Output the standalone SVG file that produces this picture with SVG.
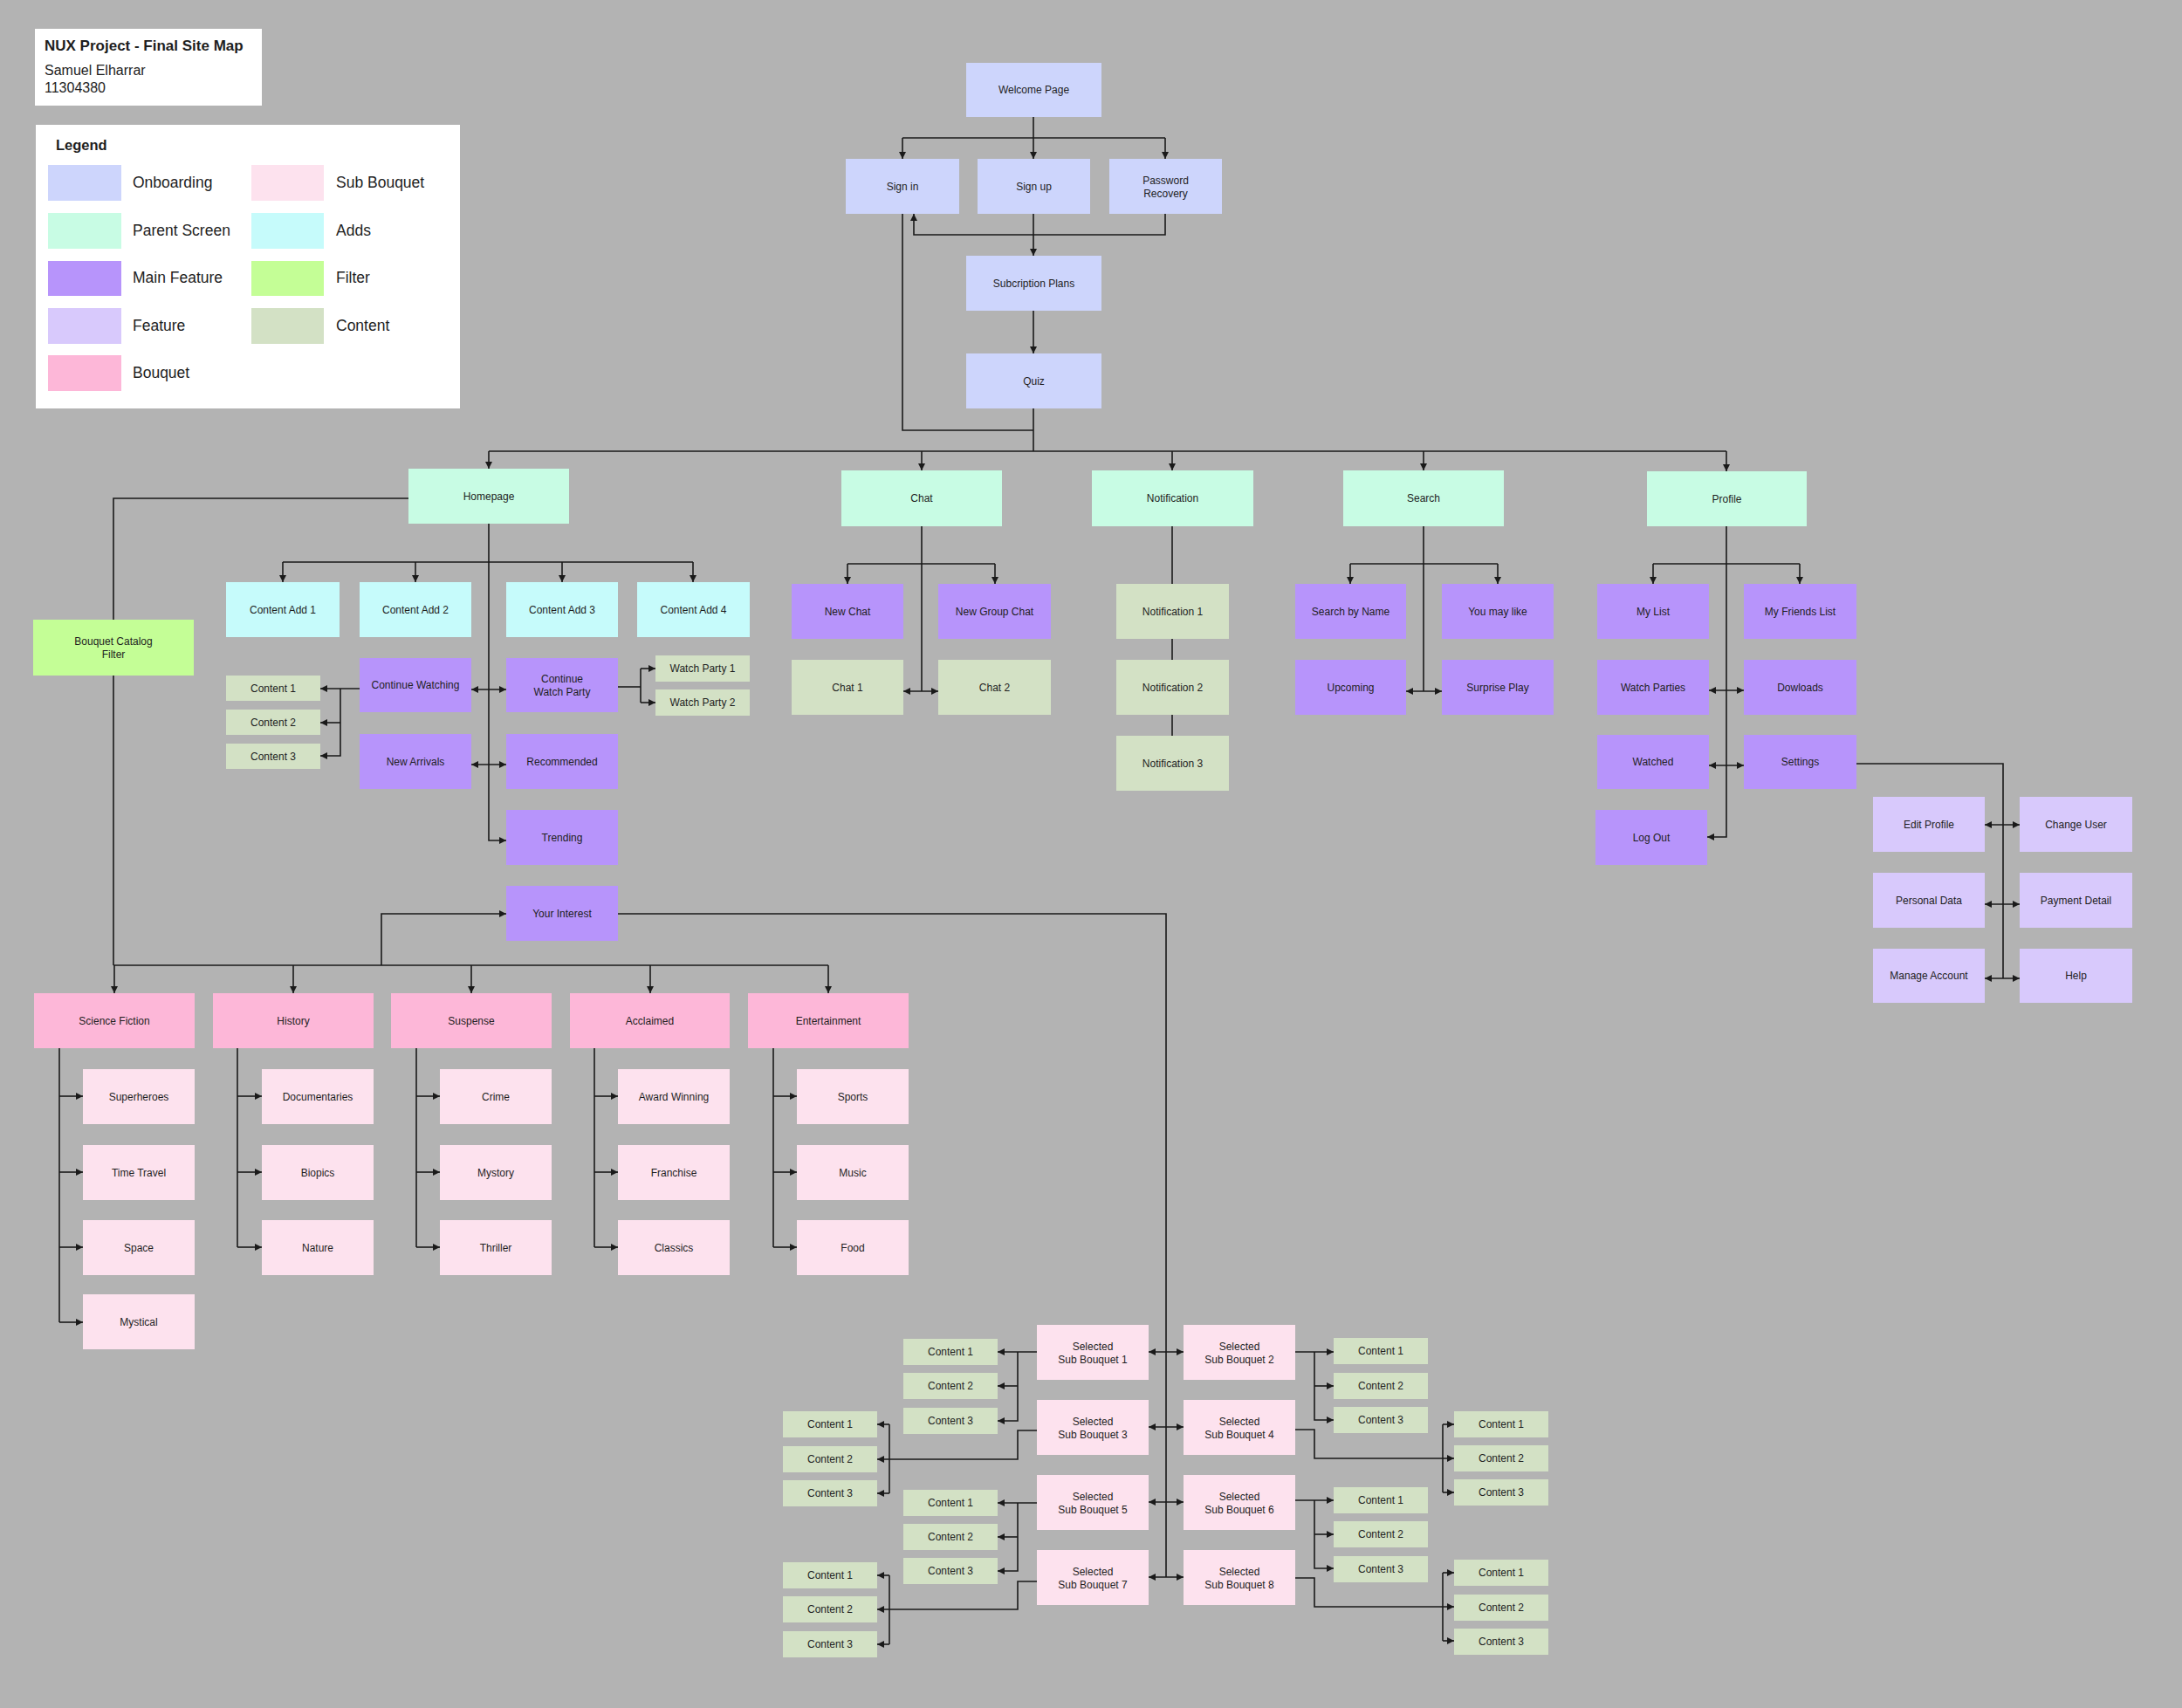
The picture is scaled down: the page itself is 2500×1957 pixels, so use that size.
<svg xmlns="http://www.w3.org/2000/svg" width="2500" height="1957" viewBox="0 0 2500 1957">
<defs>
<style>
.ob{fill:#CDD5FC}.ps{fill:#C8FCE4}.mf{fill:#B794FB}.ft{fill:#D8C9FC}.bq{fill:#FDB7D8}.sb{fill:#FDE2EE}.ad{fill:#C6FBFB}.fl{fill:#C4FE96}.ct{fill:#D3E1C5}
text{font-family:"Liberation Sans",Arial,sans-serif;fill:#1e1e1e}
.t{font-size:12px;text-anchor:middle;dominant-baseline:central}
.lg{font-size:17.5px;dominant-baseline:central}
.c path{fill:none;stroke:#1a1a1a;stroke-width:1.6}
.e{marker-end:url(#ar)}
.b{marker-end:url(#ar);marker-start:url(#ar)}
</style>
<marker id="ar" viewBox="0 0 10 10" refX="10" refY="5" markerWidth="8" markerHeight="8" markerUnits="userSpaceOnUse" orient="auto-start-reverse"><path d="M0,0 L10,5 L0,10 z" fill="#1a1a1a"/></marker>
</defs>
<rect width="2500" height="1957" fill="#B3B3B3"/>

<g id="title">
<rect x="40" y="33" width="260" height="88" fill="#fff"/>
<text x="51" y="58" font-size="17" font-weight="bold">NUX Project - Final Site Map</text>
<text x="51" y="86" font-size="16">Samuel Elharrar</text>
<text x="51" y="106" font-size="16">11304380</text>
</g>
<g id="legend">
<rect x="41" y="143" width="486" height="325" fill="#fff"/>
<text x="64" y="172" font-size="16.5" font-weight="bold">Legend</text>
<rect class="ob" x="55" y="189" width="84" height="41"/><text class="lg" x="152" y="209">Onboarding</text>
<rect class="ps" x="55" y="244" width="84" height="41"/><text class="lg" x="152" y="264">Parent Screen</text>
<rect class="mf" x="55" y="299" width="84" height="40"/><text class="lg" x="152" y="318">Main Feature</text>
<rect class="ft" x="55" y="353" width="84" height="41"/><text class="lg" x="152" y="373">Feature</text>
<rect class="bq" x="55" y="407" width="84" height="41"/><text class="lg" x="152" y="427">Bouquet</text>
<rect class="sb" x="288" y="189" width="83" height="41"/><text class="lg" x="385" y="209">Sub Bouquet</text>
<rect class="ad" x="288" y="244" width="83" height="41"/><text class="lg" x="385" y="264">Adds</text>
<rect class="fl" x="288" y="299" width="83" height="40"/><text class="lg" x="385" y="318">Filter</text>
<rect class="ct" x="288" y="353" width="83" height="41"/><text class="lg" x="385" y="373">Content</text>
</g>

<g class="c" id="connectors">
<path d="M1184,134 V182" class="e"/>
<path d="M1034,158 H1335"/>
<path d="M1034,158 V182" class="e"/>
<path d="M1335,158 V182" class="e"/>
<path d="M1184,245 V293" class="e"/>
<path d="M1335,245 V269 H1047 V245" class="e"/>
<path d="M1184,356 V405" class="e"/>
<path d="M1184,468 V517"/>
<path d="M1034,245 V493 H1184"/>
<path d="M560,517 H1978"/>
<path d="M560,517 V537" class="e"/>
<path d="M1056,517 V539" class="e"/>
<path d="M1343,517 V539" class="e"/>
<path d="M1631,517 V539" class="e"/>
<path d="M1978,517 V540" class="e"/>
<!-- homepage -->
<path d="M560,600 V963 H580" class="e"/>
<path d="M324,644 H794"/>
<path d="M324,644 V667" class="e"/>
<path d="M476,644 V667" class="e"/>
<path d="M644,644 V667" class="e"/>
<path d="M794,644 V667" class="e"/>
<path d="M540,790 H580" class="b"/>
<path d="M540,876 H580" class="b"/>
<path d="M412,789 H367" class="e"/>
<path d="M390,789 V866 H367" class="e"/>
<path d="M390,828 H367" class="e"/>
<path d="M708,787 H734"/>
<path d="M734,766 V805"/>
<path d="M734,766 H751" class="e"/>
<path d="M734,805 H751" class="e"/>
<path d="M468,571 H130 V710"/>
<path d="M130,774 V1106"/>
<path d="M130,1106 H949"/>
<path d="M131,1106 V1138" class="e"/>
<path d="M336,1106 V1138" class="e"/>
<path d="M540,1106 V1138" class="e"/>
<path d="M745,1106 V1138" class="e"/>
<path d="M949,1106 V1138" class="e"/>
<path d="M437,1106 V1047 H580" class="e"/>
<path d="M708,1047 H1336 V1807"/>
<!-- bouquets -->
<path d="M68,1201 V1515"/>
<path d="M68,1256 H95" class="e"/><path d="M68,1343 H95" class="e"/><path d="M68,1429 H95" class="e"/><path d="M68,1515 H95" class="e"/>
<path d="M272,1201 V1429"/>
<path d="M272,1256 H300" class="e"/><path d="M272,1343 H300" class="e"/><path d="M272,1429 H300" class="e"/>
<path d="M477,1201 V1429"/>
<path d="M477,1256 H504" class="e"/><path d="M477,1343 H504" class="e"/><path d="M477,1429 H504" class="e"/>
<path d="M681,1201 V1429"/>
<path d="M681,1256 H708" class="e"/><path d="M681,1343 H708" class="e"/><path d="M681,1429 H708" class="e"/>
<path d="M886,1201 V1429"/>
<path d="M886,1256 H913" class="e"/><path d="M886,1343 H913" class="e"/><path d="M886,1429 H913" class="e"/>
<!-- chat -->
<path d="M1056,603 V792"/>
<path d="M971,646 H1140"/>
<path d="M971,646 V669" class="e"/>
<path d="M1140,646 V669" class="e"/>
<path d="M1035,792 H1075" class="b"/>
<!-- notification -->
<path d="M1343,603 V669"/>
<path d="M1343,732 V756"/>
<path d="M1343,819 V843"/>
<!-- search -->
<path d="M1631,603 V792"/>
<path d="M1547,646 H1716"/>
<path d="M1547,646 V669" class="e"/>
<path d="M1716,646 V669" class="e"/>
<path d="M1611,792 H1652" class="b"/>
<!-- profile -->
<path d="M1978,603 V959 H1956" class="e"/>
<path d="M1894,646 H2062"/>
<path d="M1894,646 V669" class="e"/>
<path d="M2062,646 V669" class="e"/>
<path d="M1958,791 H1998" class="b"/>
<path d="M1958,877 H1998" class="b"/>
<path d="M2127,875 H2295 V1121"/>
<path d="M2274,945 H2314" class="b"/>
<path d="M2274,1036 H2314" class="b"/>
<path d="M2274,1121 H2314" class="b"/>
<!-- sub bouquets -->
<path d="M1316,1549 H1356" class="b"/>
<path d="M1316,1635 H1356" class="b"/>
<path d="M1316,1721 H1356" class="b"/>
<path d="M1316,1807 H1356" class="b"/>
<path d="M1188,1549 H1143" class="e"/>
<path d="M1166,1549 V1628 H1143" class="e"/>
<path d="M1166,1588 H1143" class="e"/>
<path d="M1188,1722 H1143" class="e"/>
<path d="M1166,1722 V1800 H1143" class="e"/>
<path d="M1166,1761 H1143" class="e"/>
<path d="M1188,1639 H1166 V1672 H1005" class="e"/>
<path d="M1019,1632 V1711"/>
<path d="M1019,1632 H1005" class="e"/>
<path d="M1019,1711 H1005" class="e"/>
<path d="M1188,1812 H1166 V1844 H1005" class="e"/>
<path d="M1019,1805 V1884"/>
<path d="M1019,1805 H1005" class="e"/>
<path d="M1019,1884 H1005" class="e"/>
<path d="M1484,1549 H1528" class="e"/>
<path d="M1506,1549 V1627 H1528" class="e"/>
<path d="M1506,1588 H1528" class="e"/>
<path d="M1484,1719 H1528" class="e"/>
<path d="M1506,1719 V1797 H1528" class="e"/>
<path d="M1506,1758 H1528" class="e"/>
<path d="M1484,1638 H1506 V1671 H1666" class="e"/>
<path d="M1653,1632 V1710"/>
<path d="M1653,1632 H1666" class="e"/>
<path d="M1653,1710 H1666" class="e"/>
<path d="M1484,1808 H1506 V1841 H1666" class="e"/>
<path d="M1653,1802 V1880"/>
<path d="M1653,1802 H1666" class="e"/>
<path d="M1653,1880 H1666" class="e"/>
</g>

<g id="welcome"><rect class="ob" x="1107" y="72" width="155" height="62"/><text class="t" x="1184.5" y="103">Welcome Page</text></g>
<g id="signin"><rect class="ob" x="969" y="182" width="130" height="63"/><text class="t" x="1034" y="213.5">Sign in</text></g>
<g id="signup"><rect class="ob" x="1120" y="182" width="129" height="63"/><text class="t" x="1184.5" y="213.5">Sign up</text></g>
<g id="pwrecovery"><rect class="ob" x="1271" y="182" width="129" height="63"/><text class="t" x="1335.5" y="213.5"><tspan x="1335.5" dy="-7">Password</tspan><tspan x="1335.5" dy="15">Recovery</tspan></text></g>
<g id="subscription"><rect class="ob" x="1107" y="293" width="155" height="63"/><text class="t" x="1184.5" y="324.5">Subcription Plans</text></g>
<g id="quiz"><rect class="ob" x="1107" y="405" width="155" height="63"/><text class="t" x="1184.5" y="436.5">Quiz</text></g>

<g id="homepage"><rect class="ps" x="468" y="537" width="184" height="63"/><text class="t" x="560" y="568.5">Homepage</text></g>
<g id="chat"><rect class="ps" x="964" y="539" width="184" height="64"/><text class="t" x="1056" y="571">Chat</text></g>
<g id="notification"><rect class="ps" x="1251" y="539" width="185" height="64"/><text class="t" x="1343.5" y="571">Notification</text></g>
<g id="search"><rect class="ps" x="1539" y="539" width="184" height="64"/><text class="t" x="1631" y="571">Search</text></g>
<g id="profile"><rect class="ps" x="1887" y="540" width="183" height="63"/><text class="t" x="1978.5" y="571.5">Profile</text></g>

<g id="add1"><rect class="ad" x="259" y="667" width="130" height="63"/><text class="t" x="324" y="698.5">Content Add 1</text></g>
<g id="add2"><rect class="ad" x="412" y="667" width="128" height="63"/><text class="t" x="476" y="698.5">Content Add 2</text></g>
<g id="add3"><rect class="ad" x="580" y="667" width="128" height="63"/><text class="t" x="644" y="698.5">Content Add 3</text></g>
<g id="add4"><rect class="ad" x="730" y="667" width="129" height="63"/><text class="t" x="794.5" y="698.5">Content Add 4</text></g>
<g id="contwatching"><rect class="mf" x="412" y="754" width="128" height="62"/><text class="t" x="476" y="785">Continue Watching</text></g>
<g id="contwatchparty"><rect class="mf" x="580" y="754" width="128" height="62"/><text class="t" x="644" y="785"><tspan x="644" dy="-7">Continue</tspan><tspan x="644" dy="15">Watch Party</tspan></text></g>
<g id="wp1"><rect class="ct" x="751" y="751" width="108" height="30"/><text class="t" x="805" y="766">Watch Party 1</text></g>
<g id="wp2"><rect class="ct" x="751" y="790" width="108" height="30"/><text class="t" x="805" y="805">Watch Party 2</text></g>
<g id="hc1"><rect class="ct" x="259" y="774" width="108" height="29"/><text class="t" x="313" y="788.5">Content 1</text></g>
<g id="hc2"><rect class="ct" x="259" y="813" width="108" height="29"/><text class="t" x="313" y="827.5">Content 2</text></g>
<g id="hc3"><rect class="ct" x="259" y="852" width="108" height="29"/><text class="t" x="313" y="866.5">Content 3</text></g>
<g id="newarrivals"><rect class="mf" x="412" y="841" width="128" height="63"/><text class="t" x="476" y="872.5">New Arrivals</text></g>
<g id="recommended"><rect class="mf" x="580" y="841" width="128" height="63"/><text class="t" x="644" y="872.5">Recommended</text></g>
<g id="trending"><rect class="mf" x="580" y="928" width="128" height="63"/><text class="t" x="644" y="959.5">Trending</text></g>
<g id="yourinterest"><rect class="mf" x="580" y="1015" width="128" height="63"/><text class="t" x="644" y="1046.5">Your Interest</text></g>
<g id="filter"><rect class="fl" x="38" y="710" width="184" height="64"/><text class="t" x="130" y="742"><tspan x="130" dy="-7">Bouquet Catalog</tspan><tspan x="130" dy="15">Filter</tspan></text></g>

<g id="newchat"><rect class="mf" x="907" y="669" width="128" height="63"/><text class="t" x="971" y="700.5">New Chat</text></g>
<g id="newgroupchat"><rect class="mf" x="1075" y="669" width="129" height="63"/><text class="t" x="1139.5" y="700.5">New Group Chat</text></g>
<g id="chat1"><rect class="ct" x="907" y="756" width="128" height="63"/><text class="t" x="971" y="787.5">Chat 1</text></g>
<g id="chat2"><rect class="ct" x="1075" y="756" width="129" height="63"/><text class="t" x="1139.5" y="787.5">Chat 2</text></g>
<g id="notif1"><rect class="ct" x="1279" y="669" width="129" height="63"/><text class="t" x="1343.5" y="700.5">Notification 1</text></g>
<g id="notif2"><rect class="ct" x="1279" y="756" width="129" height="63"/><text class="t" x="1343.5" y="787.5">Notification 2</text></g>
<g id="notif3"><rect class="ct" x="1279" y="843" width="129" height="63"/><text class="t" x="1343.5" y="874.5">Notification 3</text></g>
<g id="searchbyname"><rect class="mf" x="1484" y="669" width="127" height="63"/><text class="t" x="1547.5" y="700.5">Search by Name</text></g>
<g id="youmaylike"><rect class="mf" x="1652" y="669" width="128" height="63"/><text class="t" x="1716" y="700.5">You may like</text></g>
<g id="upcoming"><rect class="mf" x="1484" y="756" width="127" height="63"/><text class="t" x="1547.5" y="787.5">Upcoming</text></g>
<g id="surpriseplay"><rect class="mf" x="1652" y="756" width="128" height="63"/><text class="t" x="1716" y="787.5">Surprise Play</text></g>

<g id="mylist"><rect class="mf" x="1830" y="669" width="128" height="63"/><text class="t" x="1894" y="700.5">My List</text></g>
<g id="friendslist"><rect class="mf" x="1998" y="669" width="129" height="63"/><text class="t" x="2062.5" y="700.5">My Friends List</text></g>
<g id="watchparties"><rect class="mf" x="1830" y="756" width="128" height="63"/><text class="t" x="1894" y="787.5">Watch Parties</text></g>
<g id="downloads"><rect class="mf" x="1998" y="756" width="129" height="63"/><text class="t" x="2062.5" y="787.5">Dowloads</text></g>
<g id="watched"><rect class="mf" x="1830" y="842" width="128" height="62"/><text class="t" x="1894" y="873">Watched</text></g>
<g id="settings"><rect class="mf" x="1998" y="842" width="129" height="62"/><text class="t" x="2062.5" y="873">Settings</text></g>
<g id="logout"><rect class="mf" x="1828" y="928" width="128" height="63"/><text class="t" x="1892" y="959.5">Log Out</text></g>
<g id="editprofile"><rect class="ft" x="2146" y="913" width="128" height="63"/><text class="t" x="2210" y="944.5">Edit Profile</text></g>
<g id="changeuser"><rect class="ft" x="2314" y="913" width="129" height="63"/><text class="t" x="2378.5" y="944.5">Change User</text></g>
<g id="personaldata"><rect class="ft" x="2146" y="1000" width="128" height="63"/><text class="t" x="2210" y="1031.5">Personal Data</text></g>
<g id="paymentdetail"><rect class="ft" x="2314" y="1000" width="129" height="63"/><text class="t" x="2378.5" y="1031.5">Payment Detail</text></g>
<g id="manageaccount"><rect class="ft" x="2146" y="1087" width="128" height="62"/><text class="t" x="2210" y="1118">Manage Account</text></g>
<g id="help"><rect class="ft" x="2314" y="1087" width="129" height="62"/><text class="t" x="2378.5" y="1118">Help</text></g>

<g id="scifi"><rect class="bq" x="39" y="1138" width="184" height="63"/><text class="t" x="131" y="1169.5">Science Fiction</text></g>
<g id="history"><rect class="bq" x="244" y="1138" width="184" height="63"/><text class="t" x="336" y="1169.5">History</text></g>
<g id="suspense"><rect class="bq" x="448" y="1138" width="184" height="63"/><text class="t" x="540" y="1169.5">Suspense</text></g>
<g id="acclaimed"><rect class="bq" x="653" y="1138" width="183" height="63"/><text class="t" x="744.5" y="1169.5">Acclaimed</text></g>
<g id="entertainment"><rect class="bq" x="857" y="1138" width="184" height="63"/><text class="t" x="949" y="1169.5">Entertainment</text></g>

<g id="superheroes"><rect class="sb" x="95" y="1225" width="128" height="63"/><text class="t" x="159" y="1256.5">Superheroes</text></g>
<g id="timetravel"><rect class="sb" x="95" y="1312" width="128" height="63"/><text class="t" x="159" y="1343.5">Time Travel</text></g>
<g id="space"><rect class="sb" x="95" y="1398" width="128" height="63"/><text class="t" x="159" y="1429.5">Space</text></g>
<g id="mystical"><rect class="sb" x="95" y="1483" width="128" height="63"/><text class="t" x="159" y="1514.5">Mystical</text></g>
<g id="documentaries"><rect class="sb" x="300" y="1225" width="128" height="63"/><text class="t" x="364" y="1256.5">Documentaries</text></g>
<g id="biopics"><rect class="sb" x="300" y="1312" width="128" height="63"/><text class="t" x="364" y="1343.5">Biopics</text></g>
<g id="nature"><rect class="sb" x="300" y="1398" width="128" height="63"/><text class="t" x="364" y="1429.5">Nature</text></g>
<g id="crime"><rect class="sb" x="504" y="1225" width="128" height="63"/><text class="t" x="568" y="1256.5">Crime</text></g>
<g id="mystery"><rect class="sb" x="504" y="1312" width="128" height="63"/><text class="t" x="568" y="1343.5">Mystory</text></g>
<g id="thriller"><rect class="sb" x="504" y="1398" width="128" height="63"/><text class="t" x="568" y="1429.5">Thriller</text></g>
<g id="awardwinning"><rect class="sb" x="708" y="1225" width="128" height="63"/><text class="t" x="772" y="1256.5">Award Winning</text></g>
<g id="franchise"><rect class="sb" x="708" y="1312" width="128" height="63"/><text class="t" x="772" y="1343.5">Franchise</text></g>
<g id="classics"><rect class="sb" x="708" y="1398" width="128" height="63"/><text class="t" x="772" y="1429.5">Classics</text></g>
<g id="sports"><rect class="sb" x="913" y="1225" width="128" height="63"/><text class="t" x="977" y="1256.5">Sports</text></g>
<g id="music"><rect class="sb" x="913" y="1312" width="128" height="63"/><text class="t" x="977" y="1343.5">Music</text></g>
<g id="food"><rect class="sb" x="913" y="1398" width="128" height="63"/><text class="t" x="977" y="1429.5">Food</text></g>

<g id="sb1"><rect class="sb" x="1188" y="1518" width="128" height="63"/><text class="t" x="1252" y="1549.5"><tspan x="1252" dy="-7">Selected</tspan><tspan x="1252" dy="15">Sub Bouquet 1</tspan></text></g>
<g id="sb2"><rect class="sb" x="1356" y="1518" width="128" height="63"/><text class="t" x="1420" y="1549.5"><tspan x="1420" dy="-7">Selected</tspan><tspan x="1420" dy="15">Sub Bouquet 2</tspan></text></g>
<g id="sb3"><rect class="sb" x="1188" y="1604" width="128" height="63"/><text class="t" x="1252" y="1635.5"><tspan x="1252" dy="-7">Selected</tspan><tspan x="1252" dy="15">Sub Bouquet 3</tspan></text></g>
<g id="sb4"><rect class="sb" x="1356" y="1604" width="128" height="63"/><text class="t" x="1420" y="1635.5"><tspan x="1420" dy="-7">Selected</tspan><tspan x="1420" dy="15">Sub Bouquet 4</tspan></text></g>
<g id="sb5"><rect class="sb" x="1188" y="1690" width="128" height="63"/><text class="t" x="1252" y="1721.5"><tspan x="1252" dy="-7">Selected</tspan><tspan x="1252" dy="15">Sub Bouquet 5</tspan></text></g>
<g id="sb6"><rect class="sb" x="1356" y="1690" width="128" height="63"/><text class="t" x="1420" y="1721.5"><tspan x="1420" dy="-7">Selected</tspan><tspan x="1420" dy="15">Sub Bouquet 6</tspan></text></g>
<g id="sb7"><rect class="sb" x="1188" y="1776" width="128" height="63"/><text class="t" x="1252" y="1807.5"><tspan x="1252" dy="-7">Selected</tspan><tspan x="1252" dy="15">Sub Bouquet 7</tspan></text></g>
<g id="sb8"><rect class="sb" x="1356" y="1776" width="128" height="63"/><text class="t" x="1420" y="1807.5"><tspan x="1420" dy="-7">Selected</tspan><tspan x="1420" dy="15">Sub Bouquet 8</tspan></text></g>

<g id="sb1c1"><rect class="ct" x="1035" y="1534" width="108" height="30"/><text class="t" x="1089" y="1549">Content 1</text></g>
<g id="sb1c2"><rect class="ct" x="1035" y="1573" width="108" height="30"/><text class="t" x="1089" y="1588">Content 2</text></g>
<g id="sb1c3"><rect class="ct" x="1035" y="1613" width="108" height="30"/><text class="t" x="1089" y="1628">Content 3</text></g>
<g id="sb5c1"><rect class="ct" x="1035" y="1707" width="108" height="30"/><text class="t" x="1089" y="1722">Content 1</text></g>
<g id="sb5c2"><rect class="ct" x="1035" y="1746" width="108" height="30"/><text class="t" x="1089" y="1761">Content 2</text></g>
<g id="sb5c3"><rect class="ct" x="1035" y="1785" width="108" height="30"/><text class="t" x="1089" y="1800">Content 3</text></g>
<g id="sb3c1"><rect class="ct" x="897" y="1617" width="108" height="30"/><text class="t" x="951" y="1632">Content 1</text></g>
<g id="sb3c2"><rect class="ct" x="897" y="1657" width="108" height="30"/><text class="t" x="951" y="1672">Content 2</text></g>
<g id="sb3c3"><rect class="ct" x="897" y="1696" width="108" height="30"/><text class="t" x="951" y="1711">Content 3</text></g>
<g id="sb7c1"><rect class="ct" x="897" y="1790" width="108" height="30"/><text class="t" x="951" y="1805">Content 1</text></g>
<g id="sb7c2"><rect class="ct" x="897" y="1829" width="108" height="30"/><text class="t" x="951" y="1844">Content 2</text></g>
<g id="sb7c3"><rect class="ct" x="897" y="1869" width="108" height="30"/><text class="t" x="951" y="1884">Content 3</text></g>
<g id="sb2c1"><rect class="ct" x="1528" y="1533" width="108" height="30"/><text class="t" x="1582" y="1548">Content 1</text></g>
<g id="sb2c2"><rect class="ct" x="1528" y="1573" width="108" height="30"/><text class="t" x="1582" y="1588">Content 2</text></g>
<g id="sb2c3"><rect class="ct" x="1528" y="1612" width="108" height="30"/><text class="t" x="1582" y="1627">Content 3</text></g>
<g id="sb6c1"><rect class="ct" x="1528" y="1704" width="108" height="30"/><text class="t" x="1582" y="1719">Content 1</text></g>
<g id="sb6c2"><rect class="ct" x="1528" y="1743" width="108" height="30"/><text class="t" x="1582" y="1758">Content 2</text></g>
<g id="sb6c3"><rect class="ct" x="1528" y="1783" width="108" height="30"/><text class="t" x="1582" y="1798">Content 3</text></g>
<g id="sb4c1"><rect class="ct" x="1666" y="1617" width="108" height="30"/><text class="t" x="1720" y="1632">Content 1</text></g>
<g id="sb4c2"><rect class="ct" x="1666" y="1656" width="108" height="30"/><text class="t" x="1720" y="1671">Content 2</text></g>
<g id="sb4c3"><rect class="ct" x="1666" y="1695" width="108" height="30"/><text class="t" x="1720" y="1710">Content 3</text></g>
<g id="sb8c1"><rect class="ct" x="1666" y="1787" width="108" height="30"/><text class="t" x="1720" y="1802">Content 1</text></g>
<g id="sb8c2"><rect class="ct" x="1666" y="1827" width="108" height="30"/><text class="t" x="1720" y="1842">Content 2</text></g>
<g id="sb8c3"><rect class="ct" x="1666" y="1866" width="108" height="30"/><text class="t" x="1720" y="1881">Content 3</text></g>
</svg>
